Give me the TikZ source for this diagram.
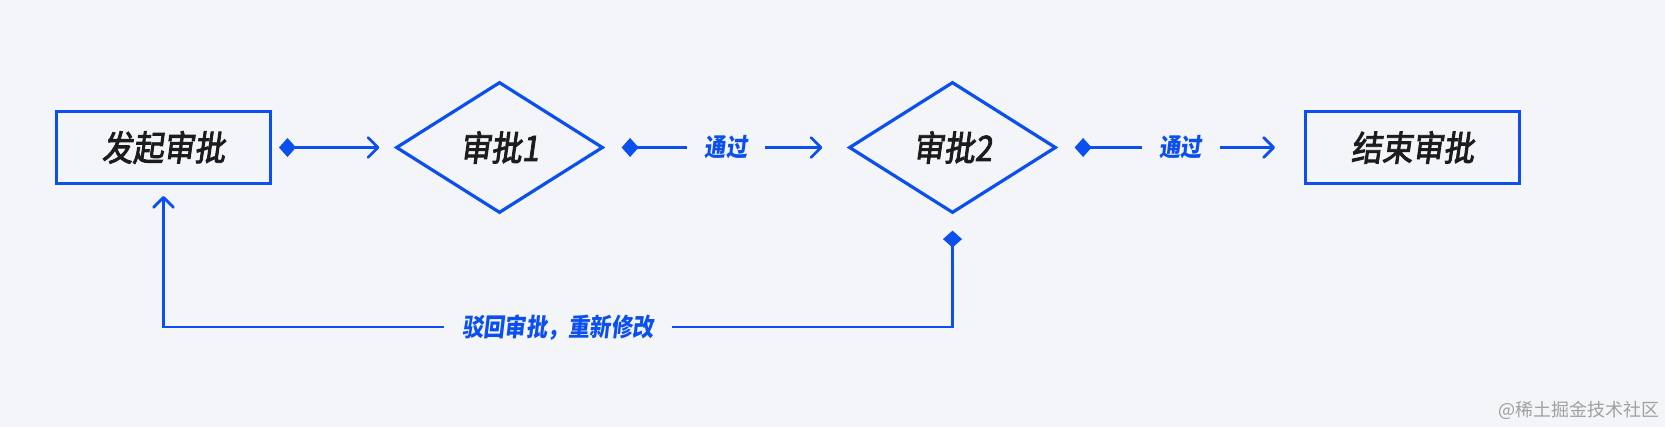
\documentclass[tikz,border=0pt]{standalone}
\usepackage{fontspec}
\newfontfamily\flowfont[FakeSlant=0.14,FakeStretch=0.88,FakeBold=2.5]{Noto Sans CJK SC}
\newfontfamily\tagfont[FakeSlant=0.12,FakeStretch=0.85]{Noto Sans CJK SC}
\newfontfamily\markfont{Noto Sans CJK SC}
\definecolor{flowblue}{HTML}{0B4FEF}
\definecolor{paper}{HTML}{F3F5F8}
\definecolor{inktext}{HTML}{1C1C1E}
\definecolor{marktext}{HTML}{A0A0A0}
\usetikzlibrary{arrows.meta, shapes.geometric}

\begin{document}
\begin{tikzpicture}[x=1pt, y=-1pt,
		stepbox/.style={draw=flowblue, line width=3pt, fill=paper, text=inktext, minimum width=214pt, minimum height=72pt, font=\flowfont\fontsize{35}{40}\selectfont},
		check/.style={diamond, draw=flowblue, line width=3.2pt, fill=paper, text=inktext, minimum width=207pt, minimum height=131pt, inner sep=0pt, font=\flowfont\fontsize{35}{40}\selectfont},
		link/.style={flowblue, line width=2.8pt, {Diamond[length=17pt,width=19pt]}-{Straight Barb[length=10pt,width=20pt,round]}},
		tag/.style={fill=paper, text=flowblue, inner xsep=18pt, inner ysep=2pt, font=\tagfont\bfseries\fontsize{25}{28}\selectfont}
	]
	\useasboundingbox (0,0) rectangle (1665,427);
	\fill[paper] (0,0) rectangle (1665,427);

	\node[stepbox] (start) at (163.5,147.5) {发起审批};
	\node[check] (chk1) at (499.5,147.5) {审批1};
	\node[check] (chk2) at (952.5,147.5) {审批2};
	\node[stepbox] (done) at (1412.5,147.5) {结束审批};

	\draw[link, shorten <=7pt, shorten >=15pt] (start) -- (chk1);
	\draw[link, shorten <=17pt, shorten >=25pt] (chk1) -- node[tag] {通过} (chk2);
	\draw[link, shorten <=17pt, shorten >=29pt] (chk2) -- node[tag] {通过} (done);
	\draw[link, shorten <=16pt, shorten >=11pt] (chk2.south) -- ++(0,112.5) -| node[tag, pos=0.25] {驳回审批，重新修改} (start.south);

	\node[font=\markfont\fontsize{18}{20}\selectfont, text=marktext] (mark) at (1579,410) {@稀土掘金技术社区};
\end{tikzpicture}
\end{document}
